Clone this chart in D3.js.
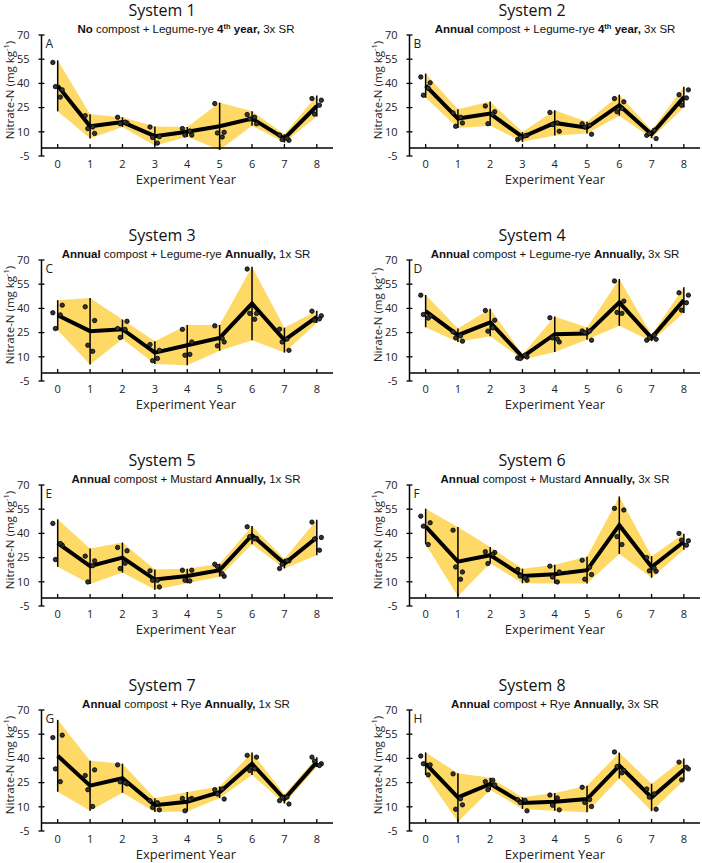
<!DOCTYPE html>
<html><head><meta charset="utf-8">
<script src="https://cdn.jsdelivr.net/npm/d3@7"></script>
<style>body{margin:0;background:#fff}svg{display:block}</style>
</head><body>
<script>
const years = [0,1,2,3,4,5,6,7,8];
const yTicks = [-5,10,25,40,55,70];
const systemNames = ["System 1","System 2","System 3","System 4","System 5","System 6","System 7","System 8"];
const panelLetters = ["A","B","C","D","E","F","G","H"];
const yLabels = ["Nitrate-N","Nitrate-N","Nitrate-N","Nirate-N","Nitrate-N","Nitrate-N","Nitrate-N","Nitrate-N"];
// subtitle parts: [text, bold, superscript]
const subtitles = [
  [["No",1,0],[" compost + Legume-rye ",0,0],["4",1,0],["th",1,1],[" year,",1,0],[" 3x SR",0,0]],
  [["Annual",1,0],[" compost + Legume-rye ",0,0],["4",1,0],["th",1,1],[" year,",1,0],[" 3x SR",0,0]],
  [["Annual",1,0],[" compost + Legume-rye ",0,0],["Annually,",1,0],[" 1x SR",0,0]],
  [["Annual",1,0],[" compost + Legume-rye ",0,0],["Annually,",1,0],[" 3x SR",0,0]],
  [["Annual",1,0],[" compost + Mustard ",0,0],["Annually,",1,0],[" 1x SR",0,0]],
  [["Annual",1,0],[" compost + Mustard ",0,0],["Annually,",1,0],[" 3x SR",0,0]],
  [["Annual",1,0],[" compost + Rye ",0,0],["Annually,",1,0],[" 1x SR",0,0]],
  [["Annual",1,0],[" compost + Rye ",0,0],["Annually,",1,0],[" 3x SR",0,0]]
];

// means (line), half-widths of the shaded interval / error bars, and replicate points
const s1Mean = [38.5,13.4,16.0,7.3,10.0,13.4,18.2,5.9,26.0];
const s1Err  = [15.8,7.5,3.0,6.0,3.0,14.7,4.5,2.6,6.5];
const s1Reps = [[53,36,38,31.5],[20,9,12,13],[19,15.5,15,16],[13,7,6.5,3],[12,8,8,10.5],[27.5,9.7,9.3,6.8],[20.7,15,18,19],[8,4.7,5.2,6],[30.6,29.6,21,26.5]];

const s2Mean = [38.6,18.2,21.3,6.8,15.5,12.6,26.5,8.5,31.5];
const s2Err  = [7.5,5.8,7.5,3.0,7.8,3.7,6.5,2.5,6.5];
const s2Reps = [[44,40.4,32.7,37],[21.7,15.5,13.4,19],[26,22.4,15,21],[5.2,7.8,6.4,7.5],[22,10.3,14.5,15.5],[15,8.5,13,14],[30.6,28.6,22.4,24.5],[7.8,5.8,8.9,11],[33,36,26.5,31]];

const s3Mean = [35.8,25.9,27.1,12.6,17.2,21.7,43.0,20.3,34.8];
const s3Err  = [9.3,20.6,6.0,7.0,12.5,8.0,22.8,7.7,3.8];
const s3Reps = [[37.3,42,27.5,36],[41,32.5,17.2,13.4],[27.5,32,22,27],[17.6,14,7.6,9],[27,19.2,11,11.5],[29.2,19.2,16.8,21.5],[64.4,36.9,36.9,33.3],[27.1,14,19.2,21],[38.3,35.4,32.7,33.5]];

const s4Mean = [38.3,23.4,31.3,9.9,24.0,24.4,43.7,21.7,45.1];
const s4Err  = [10.0,4.2,8.5,1.5,11.0,3.8,14.5,2.0,8.0];
const s4Reps = [[48.2,35.2,36.2,34],[25.5,19.7,21.7,23],[38.7,32.7,25.9,28],[9.3,9.9,8.9,11],[34.2,19.2,21.7,21],[26,20.3,25,26],[57,44.5,37.5,36.9],[20.3,20.9,21.7,23.5],[49.7,48.2,38.9,43.5]];

const s5Mean = [34.0,19.7,25.0,11.4,13.6,17.2,38.9,21.3,37.5];
const s5Err  = [14.7,11.0,9.3,6.3,4.5,4.0,5.7,3.0,11.0];
const s5Reps = [[46.2,32.7,23.8,33.7],[25.9,23,9.9,20],[31.3,29.2,18.2,21.5],[16.8,6.8,11,11],[17.2,17.2,11,10.5],[20.9,13.4,19.5,15],[44.1,36.9,38,36.6],[18.2,23,20.9,23],[47,37.5,36.5,29.6]];

const s6Mean = [44.3,22.5,26.5,13.6,14.7,17.2,45.1,19.2,34.8];
const s6Err  = [11.0,21.5,5.0,4.5,5.8,8.3,17.8,6.7,5.0];
const s6Reps = [[50.7,46.6,44.5,33.1],[42,16.1,19.2,11.6],[28.6,28.2,21.3,27],[17.6,11,13.6,12.5],[19.7,16.1,13,9.9],[23.4,14.5,11.6,19],[55.5,54.5,38,33.1],[25,16.5,16.8,18.5],[40,35.4,35.8,32.7]];

const s7Mean = [41.6,23.1,27.7,11.0,13.1,19.0,36.7,14.8,37.7];
const s7Err  = [22.3,15.5,9.0,4.3,6.0,3.6,7.0,2.8,3.0];
const s7Reps = [[52.9,54.4,33.5,25.6],[29.4,32.9,20.6,10.2],[36,24.2,25.5,25],[13.8,8.1,9.6,12.5],[15.2,15.2,7.5,14.5],[20.6,14.8,17.9,21],[41.9,40.8,32.5,33.5],[13.8,11.7,15.5,16],[40.8,36.7,38.3,35.6]];

const s8Mean = [36.7,15.8,24.2,12.3,13.1,14.8,35.6,15.8,33.1];
const s8Err  = [7.0,15.0,3.8,3.6,5.5,8.2,8.0,8.5,6.8];
const s8Reps = [[41.5,36,36.7,29.8],[30.4,11.2,8.5,15],[25.6,23.5,20.6,26.5],[14.4,7.5,12.7,14],[17.3,8.1,11,15.5],[22.1,10.2,12.7,14.5],[44,32.5,35,31],[21,8.5,16,18],[37.7,33.5,26.7,34.5]];

const means = [s1Mean,s2Mean,s3Mean,s4Mean,s5Mean,s6Mean,s7Mean,s8Mean];
const errs  = [s1Err,s2Err,s3Err,s4Err,s5Err,s6Err,s7Err,s8Err];
const reps  = [s1Reps,s2Reps,s3Reps,s4Reps,s5Reps,s6Reps,s7Reps,s8Reps];

const W = 702, H = 863;
const svg = d3.select("body").append("svg").attr("width", W).attr("height", H);
const jitter = [-0.15, 0.14, -0.07, 0.08];
const BAND = "#FFD966";
const numFont = "'Open Sans', sans-serif";
const subFont = "'Liberation Sans', Arial, sans-serif";

for (let i = 0; i < 8; i++) {
  const col = i % 2, row = Math.floor(i / 2);
  const axisX = col === 0 ? 41.5 : 409.5;
  const xEnd = col === 0 ? 333 : 700;
  const top = 35 + 225 * row, bottom = 156 + 225 * row;
  const center = col === 0 ? 186 : 555;
  const x = d3.scaleLinear().domain([-0.5, 8.5]).range([axisX, xEnd]);
  const y = d3.scaleLinear().domain([-5, 70]).range([bottom, top]);
  const g = svg.append("g");
  const m = means[i], e = errs[i], r = reps[i];
  const pts = years.map((yr, k) => ({yr, m: m[k], lo: m[k] - e[k], hi: m[k] + e[k], reps: r[k]}));

  // band
  g.append("path").datum(pts)
    .attr("d", d3.area().x(d => x(d.yr)).y0(d => y(d.lo)).y1(d => y(d.hi)))
    .attr("fill", BAND);

  // axes
  g.append("line").attr("x1", axisX).attr("x2", axisX).attr("y1", y(70)).attr("y2", y(-5))
    .attr("stroke", "#000").attr("stroke-width", 1.5);
  g.append("line").attr("x1", axisX).attr("x2", xEnd).attr("y1", y(0)).attr("y2", y(0))
    .attr("stroke", "#000").attr("stroke-width", 1.5);
  yTicks.forEach(t => {
    g.append("line").attr("x1", axisX - 3).attr("x2", axisX + 3).attr("y1", y(t)).attr("y2", y(t))
      .attr("stroke", "#000").attr("stroke-width", 1.3);
    g.append("text").attr("x", axisX - 12).attr("y", y(t)).attr("dy", "0.35em")
      .attr("text-anchor", "end").attr("font-family", numFont).attr("font-size", 11).attr("fill", "#222").text(t);
  });
  years.forEach(t => {
    g.append("line").attr("x1", x(t)).attr("x2", x(t)).attr("y1", y(0)).attr("y2", y(0) - 4)
      .attr("stroke", "#000").attr("stroke-width", 1.3);
    g.append("text").attr("x", x(t)).attr("y", bottom + 12).attr("text-anchor", "middle")
      .attr("font-family", numFont).attr("font-size", 11).attr("fill", "#222").text(t);
  });

  // error bars
  g.selectAll(".eb").data(pts).join("line")
    .attr("x1", d => x(d.yr)).attr("x2", d => x(d.yr))
    .attr("y1", d => y(d.lo)).attr("y2", d => y(d.hi))
    .attr("stroke", "#000").attr("stroke-width", 1.5);

  // mean line
  g.append("path").datum(pts)
    .attr("d", d3.line().x(d => x(d.yr)).y(d => y(d.m)))
    .attr("fill", "none").attr("stroke", "#000").attr("stroke-width", 4).attr("stroke-linejoin", "miter");

  // replicate points
  const dots = [];
  pts.forEach(p => p.reps.forEach((v, j) => dots.push({xv: p.yr + jitter[j], v})));
  g.selectAll(".dot").data(dots).join("circle")
    .attr("cx", d => x(d.xv)).attr("cy", d => y(d.v)).attr("r", 2.2)
    .attr("fill", "#333").attr("stroke", "#000").attr("stroke-width", 0.8);

  // texts
  g.append("text").attr("x", col === 0 ? 162 : 532).attr("y", 15.5 + 225 * row)
    .attr("text-anchor", "middle").attr("font-family", numFont).attr("font-size", 16).attr("fill", "#111")
    .text(systemNames[i]);
  const st = g.append("text").attr("x", center).attr("y", top - 2).attr("text-anchor", "middle")
    .attr("font-family", subFont).attr("font-size", 11.5).attr("fill", "#111");
  subtitles[i].forEach(([t, b, sup]) => {
    const ts = st.append("tspan").text(t).attr("font-weight", b ? "bold" : "normal");
    if (sup) ts.attr("baseline-shift", "super").attr("font-size", 7.5);
  });
  g.append("text").attr("x", axisX + 4).attr("y", top + 13).attr("font-family", numFont)
    .attr("font-size", 12).attr("fill", "#222").text(panelLetters[i]);
  g.append("text").attr("x", center).attr("y", bottom + 27.5).attr("text-anchor", "middle")
    .attr("font-family", numFont).attr("font-size", 13).attr("fill", "#222").text("Experiment Year");
  const yl = g.append("text").attr("transform", `translate(${axisX - 27.5},${top + 55}) rotate(-90)`)
    .attr("text-anchor", "middle").attr("font-family", numFont).attr("font-size", 11.5).attr("fill", "#222");
  yl.append("tspan").text(yLabels[i] + " (mg kg");
  yl.append("tspan").text("-1").attr("baseline-shift", "super").attr("font-size", 7.5);
  yl.append("tspan").text(")");
}
</script>
</body></html>
